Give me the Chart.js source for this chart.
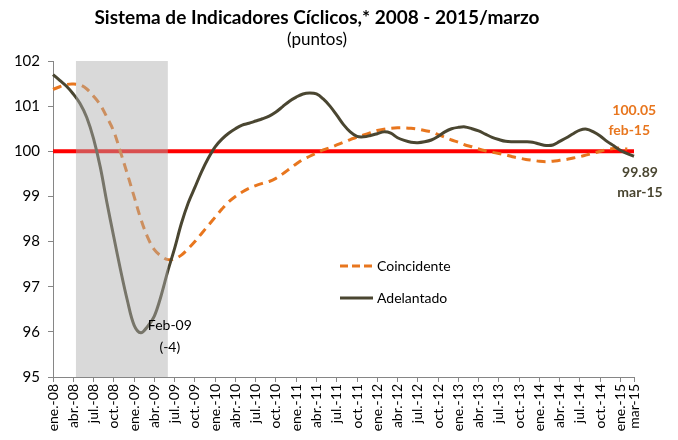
<!DOCTYPE html>
<html lang="es">
<head>
<meta charset="UTF-8">
<title>Sistema de Indicadores Cíclicos</title>
<script src="https://cdn.jsdelivr.net/npm/chart.js"></script>
<style>
  html, body { margin: 0; padding: 0; background: #fff; }
  #wrap { width: 678px; height: 440px; }
</style>
</head>
<body>
<div id="wrap"><canvas id="chart"></canvas></div>
<script>
// months ene-08 .. mar-15
const monthNames = ['ene', 'feb', 'mar', 'abr', 'may', 'jun', 'jul', 'ago', 'sep', 'oct', 'nov', 'dic'];
const categories = [];
for (let y = 8; y <= 15; y++) {
    for (let m = 0; m < 12; m++) {
        if (y === 15 && m > 2) break;
        categories.push(monthNames[m] + '-' + String(y).padStart(2, '0'));
    }
}

// labels shown on the x axis (every 3 months, plus the last month)
const tickLabels = [
    'ene.-08', 'abr.-08', 'jul.-08', 'oct.-08', 'ene.-09', 'abr.-09', 'jul.-09', 'oct.-09',
    'ene.-10', 'abr.-10', 'jul.-10', 'oct.-10', 'ene.-11', 'abr.-11', 'jul.-11', 'oct.-11',
    'ene.-12', 'abr.-12', 'jul.-12', 'oct.-12', 'ene.-13', 'abr.-13', 'jul.-13', 'oct.-13',
    'ene.-14', 'abr.-14', 'jul.-14', 'oct.-14', 'ene.-15', 'mar-15'
];

const coincidente = [
    101.37, 101.43, 101.48, 101.49, 101.47, 101.38, 101.22, 101.03, 100.75, 100.44, 99.98, 99.50,
    99.00, 98.50, 98.10, 97.82, 97.68, 97.60, 97.62, 97.70, 97.84, 98.00, 98.18, 98.36,
    98.54, 98.72, 98.88, 99.00, 99.10, 99.18, 99.24, 99.29, 99.33, 99.40, 99.50, 99.61,
    99.72, 99.82, 99.89, 99.96, 100.03, 100.08, 100.14, 100.20, 100.26, 100.31, 100.36, 100.41,
    100.46, 100.49, 100.51, 100.52, 100.52, 100.51, 100.49, 100.46, 100.43, 100.37, 100.31, 100.25,
    100.20, 100.14, 100.10, 100.05, 100.01, 99.98, 99.95, 99.92, 99.88, 99.85, 99.82, 99.80,
    99.78, 99.77, 99.78, 99.80, 99.82, 99.85, 99.88, 99.92, 99.96, 100.00, 100.04, 100.06,
    100.07, 100.05, null
];

const adelantado = [
    101.70, 101.57, 101.44, 101.27, 101.06, 100.75, 100.28, 99.65, 98.85, 98.10, 97.37, 96.70,
    96.15, 95.98, 96.12, 96.35, 96.80, 97.35, 97.85, 98.40, 98.85, 99.20, 99.55, 99.85,
    100.10, 100.27, 100.40, 100.50, 100.58, 100.62, 100.67, 100.72, 100.78, 100.87, 100.99, 101.11,
    101.20, 101.27, 101.29, 101.27, 101.16, 101.00, 100.80, 100.59, 100.43, 100.33, 100.32, 100.35,
    100.39, 100.43, 100.40, 100.30, 100.24, 100.20, 100.19, 100.21, 100.25, 100.33, 100.43, 100.50,
    100.53, 100.54, 100.50, 100.45, 100.38, 100.31, 100.26, 100.22, 100.21, 100.21, 100.21, 100.20,
    100.16, 100.13, 100.14, 100.22, 100.30, 100.39, 100.47, 100.49, 100.43, 100.34, 100.22, 100.12,
    100.02, 99.95, 99.89
];

const reference = categories.map(() => 100);

// recession shading, in category index units
const shadeStart = 3.4;
const shadeEnd = 17;

const orange = '#E8761E';
const olive = '#4A4631';

const overlays = {
    id: 'overlays',
    afterDatasetsDraw(chart) {
        const { ctx, chartArea, scales } = chart;
        const x = scales.x;
        ctx.save();
        // shaded period, drawn semi-transparent over the lines
        const x0 = x.getPixelForValue(shadeStart);
        const x1 = x.getPixelForValue(shadeEnd);
        ctx.fillStyle = 'rgba(172,172,172,0.46)';
        ctx.fillRect(x0, chartArea.top, x1 - x0, chartArea.bottom - chartArea.top);
        ctx.restore();
    },
    afterDraw(chart) {
        const { ctx, scales } = chart;
        const x = scales.x, y = scales.y;
        ctx.save();
        ctx.textAlign = 'center';
        ctx.textBaseline = 'middle';

        // trough annotation
        ctx.font = '14px Lato';
        ctx.fillStyle = '#000';
        const tx = x.getPixelForValue(13) + 29;
        const ty = y.getPixelForValue(adelantado[13]);
        ctx.fillText('Feb-09', tx, ty - 7);
        ctx.fillText('(-4)', tx, ty + 15);

        // last values
        ctx.font = 'bold 14px Lato';
        ctx.fillStyle = orange;
        const cx = x.getPixelForValue(85);
        const cy = y.getPixelForValue(coincidente[85]);
        ctx.fillText('100.05', cx + 7, cy - 39);
        ctx.fillText('feb-15', cx + 2, cy - 19);

        ctx.fillStyle = olive;
        const ax = x.getPixelForValue(86);
        const ay = y.getPixelForValue(adelantado[86]);
        ctx.fillText('99.89', ax + 6, ay + 16);
        ctx.fillText('mar-15', ax + 6, ay + 36);

        // legend inside the plot
        const lx = 340, ly1 = 266, ly2 = 298;
        ctx.lineWidth = 3;
        ctx.strokeStyle = orange;
        ctx.setLineDash([8, 4]);
        ctx.beginPath(); ctx.moveTo(lx, ly1); ctx.lineTo(lx + 33, ly1); ctx.stroke();
        ctx.setLineDash([]);
        ctx.strokeStyle = olive;
        ctx.beginPath(); ctx.moveTo(lx, ly2); ctx.lineTo(lx + 33, ly2); ctx.stroke();
        ctx.font = '14px Lato';
        ctx.fillStyle = '#000';
        ctx.textAlign = 'left';
        ctx.fillText('Coincidente', lx + 37, ly1);
        ctx.fillText('Adelantado', lx + 37, ly2);
        ctx.restore();
    }
};

new Chart(document.getElementById('chart'), {
    type: 'line',
    data: {
        labels: categories,
        datasets: [
            {
                label: 'Adelantado',
                data: adelantado,
                borderColor: olive,
                borderWidth: 3,
                pointRadius: 0,
                tension: 0.35,
                order: 1
            },
            {
                label: 'Coincidente',
                data: coincidente,
                borderColor: orange,
                borderWidth: 3,
                borderDash: [9, 6],
                pointRadius: 0,
                tension: 0.35,
                order: 2
            },
            {
                label: 'Referencia',
                data: reference,
                borderColor: '#FF0000',
                borderWidth: 4,
                pointRadius: 0,
                order: 3
            }
        ]
    },
    options: {
        responsive: true,
        maintainAspectRatio: false,
        animation: false,
        layout: { padding: { left: 0, right: 44, top: 0, bottom: 0 } },
        plugins: {
            legend: { display: false },
            tooltip: { enabled: false },
            title: {
                display: true,
                text: 'Sistema de Indicadores Cíclicos,* 2008 - 2015/marzo',
                color: '#000',
                font: { family: 'Lato', size: 19, weight: 'bold', lineHeight: 1.2 },
                padding: { top: 6, bottom: 0 }
            },
            subtitle: {
                display: true,
                text: '(puntos)',
                color: '#000',
                font: { family: 'Lato', size: 17, lineHeight: 1.2 },
                padding: { top: 1, bottom: 10.8 }
            }
        },
        scales: {
            x: {
                offset: false,
                grid: { drawOnChartArea: false, drawTicks: true, tickLength: 5, color: '#868686' },
                border: { color: '#868686', width: 1 },
                ticks: {
                    autoSkip: false,
                    minRotation: 90,
                    maxRotation: 90,
                    padding: 2,
                    color: '#000',
                    font: { family: 'Lato', size: 14 },
                    callback: (v, i) => {
                        if (i % 3 === 0) return tickLabels[i / 3];
                        if (i === categories.length - 1) return tickLabels[tickLabels.length - 1];
                        return null;
                    }
                },
                afterFit: (s) => { s.height = 63; }
            },
            y: {
                min: 95,
                max: 102,
                grid: { drawOnChartArea: false, drawTicks: true, tickLength: 5, color: '#868686' },
                border: { color: '#868686', width: 1 },
                ticks: {
                    stepSize: 1,
                    padding: 8,
                    color: '#000',
                    font: { family: 'Lato', size: 15 }
                },
                afterFit: (s) => { s.width = 53; }
            }
        }
    },
    plugins: [overlays]
});
</script>
</body>
</html>
